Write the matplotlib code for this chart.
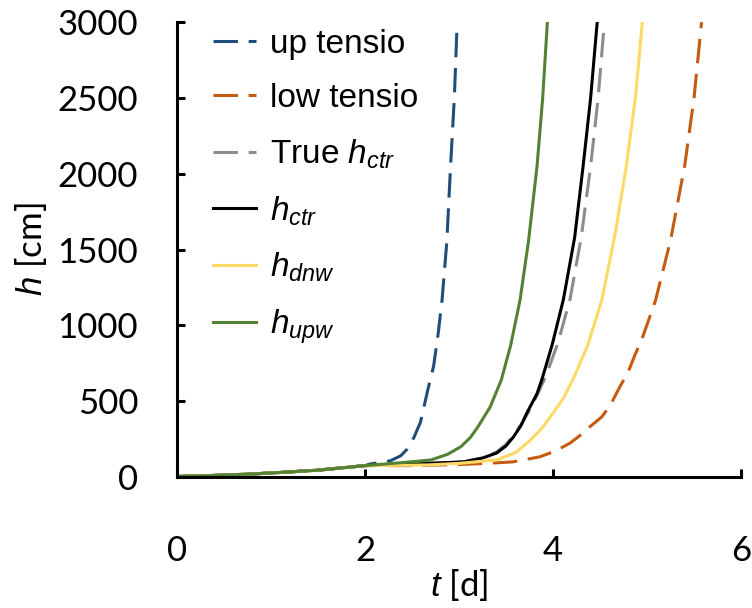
import matplotlib
matplotlib.use("Agg")
import matplotlib.pyplot as plt

# valeurs
t_base = [0, 0.5, 1, 1.5, 2]
h_base = [3, 12, 26, 45, 75]

t_up = t_base + [2.05, 2.27, 2.38, 2.45, 2.52, 2.59, 2.67, 2.73, 2.78, 2.82, 2.87, 2.91, 2.95, 2.98]
h_up = h_base + [85, 107, 140, 185, 260, 362, 580, 732, 954, 1171, 1550, 2050, 2500, 2990]

t_low = t_base + [2.5, 3.0, 3.3, 3.58, 3.86, 4.02, 4.18, 4.29, 4.39, 4.52, 4.61, 4.71, 4.80, 4.87,
                  4.94, 5.01, 5.09, 5.25, 5.40, 5.50, 5.58]
h_low = h_base + [75, 82, 90, 100, 133, 170, 223, 275, 330, 397, 474, 594, 693, 803,
                  900, 1022, 1164, 1560, 2050, 2500, 3000]

t_true = t_base + [2.5, 3.05, 3.25, 3.40, 3.50, 3.58, 3.66, 3.74, 3.83, 3.92, 4.05, 4.18, 4.30, 4.40, 4.48, 4.54]
h_true = h_base + [85, 100, 125, 165, 215, 275, 345, 430, 540, 660, 880, 1170, 1580, 2050, 2500, 2950]

t_ctr = t_base + [2.5, 3.05, 3.25, 3.40, 3.50, 3.58, 3.66, 3.72, 3.83, 3.88, 3.99, 4.11, 4.23, 4.32, 4.40, 4.47]
h_ctr = h_base + [85, 100, 125, 158, 205, 265, 340, 420, 550, 640, 870, 1170, 1580, 2050, 2500, 3000]

t_dnw = t_base + [2.5, 2.69, 3.0, 3.40, 3.6, 3.76, 3.88, 4.0, 4.11, 4.21, 4.37, 4.52, 4.66, 4.78, 4.88, 4.95]
h_dnw = h_base + [78, 80, 90, 112, 160, 243, 320, 420, 520, 640, 870, 1170, 1600, 2050, 2520, 3000]

t_upw = t_base + [2.4, 2.7, 2.88, 3.02, 3.12, 3.2, 3.33, 3.45, 3.55, 3.65, 3.74, 3.83, 3.89, 3.94]
h_upw = h_base + [95, 112, 150, 200, 260, 330, 460, 640, 870, 1170, 1560, 2050, 2500, 3000]

x_ticks = [0, 2, 4, 6]
y_ticks = [0, 500, 1000, 1500, 2000, 2500, 3000]

plt.rcParams['mathtext.fontset'] = 'custom'
plt.rcParams['mathtext.rm'] = 'Liberation Sans'
plt.rcParams['mathtext.it'] = 'Liberation Sans:italic'

fig = plt.figure(figsize=(7.52, 6.08), dpi=100)
ax = fig.add_axes([0.2354, 0.2155, 0.75, 0.748])

lw = 2.2
dash = (0, (8, 3.5))
ax.plot(t_up, h_up, color='#1F4E79', lw=lw, ls=dash, label='up tensio')
ax.plot(t_low, h_low, color='#C55A11', lw=lw, ls=dash, label='low tensio')
ax.plot(t_true, h_true, color='#8C8C8C', lw=lw, ls=dash, label='True $h_{ctr}$')
ax.plot(t_ctr, h_ctr, color='black', lw=lw, label='$h_{ctr}$')
ax.plot(t_dnw, h_dnw, color='#FFD966', lw=lw, label='$h_{dnw}$')
ax.plot(t_upw, h_upw, color='#548235', lw=lw, label='$h_{upw}$')

ax.set_xlim(0, 6)
ax.set_ylim(0, 3000)
ax.set_xticks(x_ticks)
ax.set_yticks(y_ticks)
for s in ['top', 'right']:
    ax.spines[s].set_visible(False)
for s in ['left', 'bottom']:
    ax.spines[s].set_linewidth(2.2)
ax.tick_params(direction='in', length=6, width=2.2, labelsize=25)
ax.tick_params(axis='x', pad=42)
ax.tick_params(axis='y', pad=28)
for lab in ax.get_xticklabels() + ax.get_yticklabels():
    lab.set_family('Lato')

ax.set_xlabel('$t$ [d]', fontsize=25, family='Lato', labelpad=0)
ax.set_ylabel('$h$ [cm]', fontsize=25, family='Lato', labelpad=6)

leg = ax.legend(loc='upper left', frameon=False,
                prop={'family': 'Liberation Sans', 'size': 24},
                handlelength=1.3, handletextpad=0.4, labelspacing=0.7,
                borderaxespad=0.0, bbox_to_anchor=(0.04, 1.015))

fig.savefig('out.png', dpi=100)
